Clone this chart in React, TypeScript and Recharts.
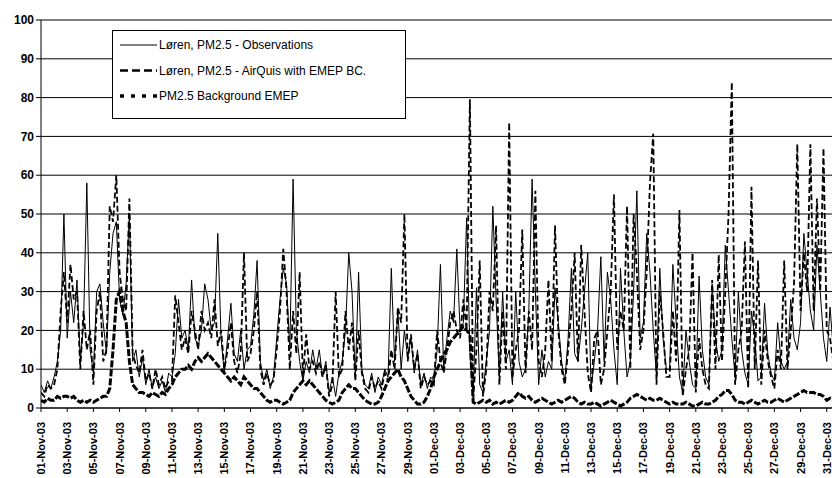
import { LineChart, Line, XAxis, YAxis, CartesianGrid } from "recharts";

// 6-hourly samples (00, 06, 12, 18) from 01-Nov-03, one row per day
const obsPM25 = [
  6, 4, 7, 5, 8, 12, 20, 50, 18, 30, 22, 33, 12, 22, 58, 15, 9, 30, 32, 22,
  14, 35, 45, 48, 28, 24, 32, 50, 12, 15, 8, 13, 6, 10, 5, 8, 5, 7, 4, 9,
  8, 14, 28, 18, 20, 15, 33, 18, 16, 20, 32, 28, 20, 22, 45, 18, 9, 18, 27, 14,
  12, 20, 10, 15, 16, 24, 38, 12, 7, 10, 5, 8, 18, 28, 36, 32, 15, 59, 20, 12,
  7, 12, 9, 15, 10, 15, 8, 12, 4, 8, 3, 9, 12, 20, 40, 30, 8, 35, 10, 6,
  5, 9, 4, 8, 6, 10, 8, 36, 12, 25, 10, 20, 13, 18, 9, 15, 6, 9, 5, 8,
  7, 15, 37, 10, 18, 25, 22, 41, 20, 22, 49, 15, 3, 31, 6, 4, 12, 20, 52, 28,
  8, 30, 12, 15, 6, 30, 12, 8, 10, 25, 59, 30, 6, 15, 8, 12, 10, 31, 22, 12,
  7, 18, 36, 14, 12, 20, 30, 40, 5, 12, 20, 39, 12, 35, 28, 15, 6, 36, 20, 8,
  12, 30, 56, 18, 22, 45, 35, 20, 8, 36, 18, 10, 10, 37, 22, 8, 4, 20, 12, 6,
  5, 34, 15, 8, 6, 32, 18, 12, 15, 42, 30, 18, 8, 30, 15, 9, 6, 25, 18, 7,
  8, 27, 14, 9, 7, 22, 12, 10, 12, 28, 18, 15, 22, 45, 35, 25, 20, 42, 30, 18,
  12, 26, 15, 10,
];

const airQuisPM25 = [
  4, 3, 6, 5, 6, 10, 25, 35, 22, 37, 28, 30, 10, 25, 15, 20, 6, 25, 30, 12,
  15, 52, 48, 60, 35, 28, 25, 54, 14, 11, 9, 15, 7, 9, 5, 10, 6, 8, 5, 7,
  7, 29, 22, 15, 18, 14, 25, 20, 15, 25, 20, 22, 18, 28, 16, 20, 10, 15, 22, 12,
  9, 14, 40, 12, 14, 20, 30, 10, 6, 9, 6, 7, 15, 25, 41, 30, 10, 25, 14, 35,
  8, 19, 10, 12, 9, 12, 8, 11, 3, 6, 30, 8, 10, 25, 15, 22, 7, 20, 9, 5,
  4, 8, 5, 7, 5, 9, 7, 15, 10, 26, 22, 50, 12, 19, 10, 14, 5, 8, 6, 7,
  6, 20, 12, 9, 15, 22, 25, 20, 18, 28, 20, 79.6, 2, 15, 38, 3, 10, 30, 25, 47,
  6, 25, 10, 73.6, 8, 15, 20, 46, 9, 25, 15, 56, 12, 8, 15, 33, 12, 47, 20, 10,
  6, 15, 25, 40, 12, 42, 25, 9, 4, 18, 20, 6, 10, 20, 30, 55, 15, 25, 20, 52,
  10, 50, 35, 15, 20, 35, 58, 70.7, 6, 30, 20, 8, 8, 25, 12, 51, 3, 10, 15, 40,
  4, 18, 10, 6, 5, 33, 10, 39.5, 12, 30, 50, 84, 6, 15, 20, 42.9, 5, 57, 10, 38,
  6, 20, 12, 8, 5, 15, 10, 38, 10, 20, 32, 68, 25, 40, 30, 68, 25, 54, 30, 67,
  20, 18, 12, 7,
];

const emepBackground = [
  2, 1.5, 2.5, 2, 2, 3, 2.5, 3, 3, 2.5, 3, 2, 1.5, 2, 1.5, 2, 1.5, 2, 2.5, 3,
  3, 5, 15, 28, 30, 25, 22, 12, 6, 5, 4, 4, 3.5, 3, 4, 3.5, 3, 4, 3.5, 5,
  6, 8, 9, 10, 10, 11, 10, 12, 13, 12, 13, 14, 13, 12, 11, 10, 9, 8, 7, 8,
  7, 6, 8, 7, 6, 5, 5, 4, 3, 2, 1.5, 2, 2, 1.5, 1, 1.5, 2, 4, 5, 6,
  7, 6, 7, 6, 5, 4, 3, 2, 1.5, 1, 1.5, 2, 4, 5, 6, 5, 5, 4, 3, 2,
  1.5, 1, 1, 1.5, 3, 5, 7, 8, 9, 10, 8, 7, 5, 3, 2, 1, 1, 1.5, 3, 5,
  8, 10, 12, 14, 15, 17, 18, 19, 20, 21, 20, 19, 1.5, 1, 1.5, 2, 1.5, 2, 1, 1.5,
  1, 1.5, 2, 1.5, 2, 3, 4, 3, 2.5, 3, 2, 1.5, 2, 2.5, 2, 1.5, 1, 1.5, 2, 1.5,
  2, 2.5, 3, 2.5, 1.5, 1, 1.5, 1, 1, 1.5, 1, 0.5, 1, 1.5, 2, 1.5, 1, 0.5, 1, 1.5,
  2.5, 3, 3.5, 3, 2.5, 2, 2.5, 2, 2, 2.5, 2, 1.5, 1, 1.5, 1, 1, 1, 1.5, 1, 0.5,
  0.5, 1, 1.5, 1, 1, 1.5, 2, 3, 3.5, 4.5, 4.5, 3.5, 2, 1.5, 1.5, 1, 1.5, 2, 1.5, 1,
  1.5, 2, 1.5, 1.5, 2, 2.5, 2, 1.5, 2, 2.5, 3, 3.5, 4, 4.5, 4, 4, 4, 3.5, 3.5, 3,
  2, 2.5, 2, 2,
];

const xTickLabels = [
  "01-Nov-03", "03-Nov-03", "05-Nov-03", "07-Nov-03", "09-Nov-03", "11-Nov-03",
  "13-Nov-03", "15-Nov-03", "17-Nov-03", "19-Nov-03", "21-Nov-03", "23-Nov-03",
  "25-Nov-03", "27-Nov-03", "29-Nov-03", "01-Dec-03", "03-Dec-03", "05-Dec-03",
  "07-Dec-03", "09-Dec-03", "11-Dec-03", "13-Dec-03", "15-Dec-03", "17-Dec-03",
  "19-Dec-03", "21-Dec-03", "23-Dec-03", "25-Dec-03", "27-Dec-03", "29-Dec-03",
  "31-Dec-03",
];
const yTicks = [0, 10, 20, 30, 40, 50, 60, 70, 80, 90, 100];

const SERIES = [
  { key: "obs", name: "Løren, PM2.5 - Observations", width: 1, dash: undefined, legendDash: undefined, legendWidth: 1 },
  { key: "model", name: "Løren, PM2.5 - AirQuis with EMEP BC.", width: 1.8, dash: "6 3", legendDash: "8 4", legendWidth: 2.5 },
  { key: "bg", name: "PM2.5 Background EMEP", width: 3, dash: "7 2", legendDash: "4 7", legendWidth: 3.5 },
];

const FONT = "'Liberation Sans', Arial, sans-serif";

const data = obsPM25.map((v, i) => ({
  t: i / 4,
  obs: v,
  model: airQuisPM25[i],
  bg: emepBackground[i],
}));

const xTicks = xTickLabels.map((_, i) => i * 2);

function DateTick({ x, y, payload }: any) {
  const label = xTickLabels[Math.round(payload.value / 2)];
  const ty = y + 8;
  return (
    <text
      x={x}
      y={ty}
      dy="0.36em"
      transform={`rotate(-90, ${x}, ${ty})`}
      textAnchor="end"
      fontFamily={FONT}
      fontWeight="bold"
      fontSize={11}
      fill="#000"
    >
      {label}
    </text>
  );
}

function ChartLegend() {
  return (
    <svg
      width={294}
      height={89}
      style={{ position: "absolute", left: 112, top: 30, overflow: "visible" }}
    >
      <rect x={0.5} y={0.5} width={293} height={88} fill="#fff" stroke="#000" />
      {SERIES.map((s, i) => {
        const cy = 15 + i * 25.5;
        return (
          <g key={s.key}>
            <line
              x1={8}
              x2={45}
              y1={cy}
              y2={cy}
              stroke="#000"
              strokeWidth={s.legendWidth}
              strokeDasharray={s.legendDash}
            />
            <text x={47} y={cy} dy="0.36em" fontFamily={FONT} fontSize={12} fill="#000">
              {s.name}
            </text>
          </g>
        );
      })}
    </svg>
  );
}

export default function App() {
  return (
    <div style={{ position: "absolute", left: 0, top: 0, width: 832, height: 478, background: "#fff", overflow: "hidden" }}>
      <LineChart
        width={832}
        height={478}
        data={data}
        margin={{ top: 20, right: 0, bottom: 0, left: 0 }}
      >
        <CartesianGrid vertical={false} stroke="#000" strokeWidth={1} />
        <XAxis
          dataKey="t"
          type="number"
          domain={[0, 60.4]}
          allowDataOverflow
          ticks={xTicks}
          interval={0}
          height={70}
          tick={<DateTick />}
          tickSize={4}
          axisLine={{ stroke: "#000" }}
          tickLine={{ stroke: "#000" }}
        />
        <YAxis
          type="number"
          domain={[0, 100]}
          ticks={yTicks}
          interval={0}
          width={41}
          tickSize={5}
          axisLine={{ stroke: "#000" }}
          tickLine={{ stroke: "#000" }}
          tick={{ fill: "#000", fontSize: 12, fontWeight: "bold", fontFamily: FONT }}
        />
        {SERIES.map((s) => (
          <Line
            key={s.key}
            dataKey={s.key}
            name={s.name}
            type="linear"
            stroke="#000"
            strokeWidth={s.width}
            strokeDasharray={s.dash}
            dot={false}
            activeDot={false}
            isAnimationActive={false}
          />
        ))}
      </LineChart>
      <ChartLegend />
    </div>
  );
}
